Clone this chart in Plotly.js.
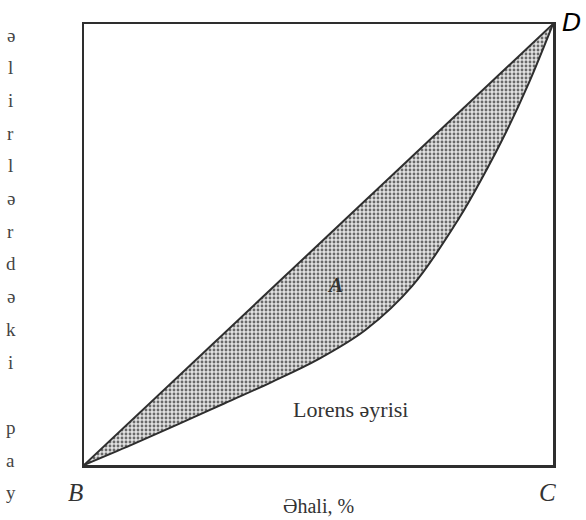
<!DOCTYPE html>
<html>
<head>
<meta charset="utf-8">
<script src="https://cdn.plot.ly/plotly-3.0.1.min.js"></script>
<style>
  html, body { margin: 0; padding: 0; background: #fff; }
  #chart { width: 586px; height: 520px; }
</style>
</head>
<body>
<div id="chart"></div>
<script>
// population share (%) and income share (%)
var equalX = [0, 100];
var equalY = [0, 100];
var lorenzX = [0, 10, 20, 30, 40, 50, 60, 70, 80, 85, 90, 95, 100];
var lorenzY = [0, 4.5, 9.2, 14.0, 18.8, 24.0, 30.6, 40.6, 56.0, 65.3, 75.5, 87.0, 100];
var sideLetters = ['ə', 'l', 'i', 'r', 'l', 'ə', 'r', 'd', 'ə', 'k', 'i', ' ', 'p', 'a', 'y'];

var ink = '#2e2e2e';
var serif = 'Liberation Serif, DejaVu Serif, serif';

var data = [
  {x: equalX, y: equalY, mode: 'lines', line: {color: ink, width: 2}, hoverinfo: 'skip'},
  {x: lorenzX, y: lorenzY, mode: 'lines', line: {color: ink, width: 2, shape: 'spline', smoothing: 1},
   fill: 'tonexty', fillcolor: '#c8c8c8',
   fillpattern: {shape: '.', bgcolor: '#e2e2e2', fgcolor: '#6a6a6a', size: 4, solidity: 0.4},
   hoverinfo: 'skip'}
];

function label(x, y, text, size, family, color, paper) {
  var a = {x: x, y: y, text: text, showarrow: false, xanchor: 'center', yanchor: 'middle',
           font: {family: family, size: size, color: color}};
  if (paper) { a.xref = 'paper'; a.yref = 'paper'; }
  return a;
}

var annotations = [
  label(53.5, 40.8, '<b><i>A</i></b>', 21, serif, '#333', false),
  label(56.9, 12.5, 'Lorens əyrisi', 22, serif, '#333', false),
  label(-0.019, -0.062, '<i>B</i>', 25, serif, '#333', true),
  label(0.989, -0.062, '<i>C</i>', 25, serif, '#333', true),
  label(1.04, 1.004, '<i>D</i>', 25, 'DejaVu Sans, sans-serif', '#000', true),
  label(0.499, -0.093, 'Əhali, %', 20, serif, '#333', true)
];
// vertical stacked label on the left
for (var i = 0; i < sideLetters.length; i++) {
  var py = 35 + i * 32.7;
  annotations.push(label(-0.156, (465 - py) / 441, sideLetters[i], 19, serif, '#444', true));
}

var axisStyle = {range: [0, 100], showline: true, mirror: true, linecolor: ink, linewidth: 2.5,
                 showgrid: false, zeroline: false, showticklabels: false, ticks: '', fixedrange: true};

var layout = {
  width: 586, height: 520,
  margin: {l: 84, r: 33, t: 24, b: 55, pad: 0},
  paper_bgcolor: '#fff', plot_bgcolor: '#fff',
  showlegend: false,
  xaxis: axisStyle,
  yaxis: Object.assign({}, axisStyle),
  annotations: annotations
};

Plotly.newPlot('chart', data, layout, {displayModeBar: false, staticPlot: true});
</script>
</body>
</html>
